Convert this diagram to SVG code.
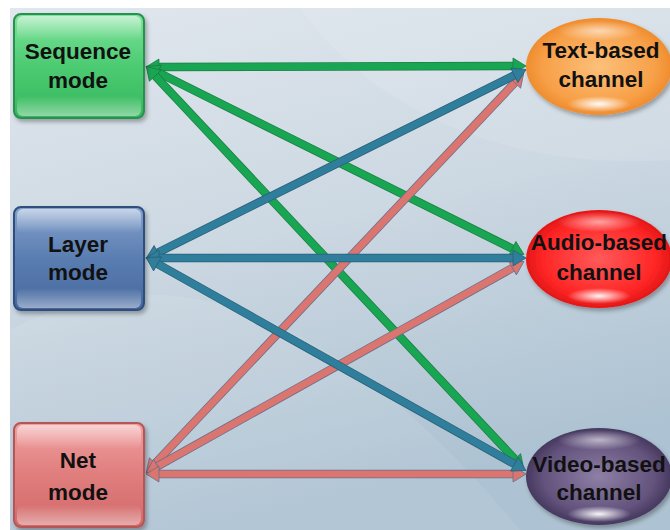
<svg xmlns="http://www.w3.org/2000/svg" width="670" height="530" viewBox="0 0 670 530">
<defs>
<style>
.lbl{font-family:"Liberation Sans",Arial,sans-serif;font-weight:bold;font-size:22.5px;fill:#111;text-anchor:middle}
.e{fill:none;stroke-width:7;stroke-linecap:butt}
.o{fill:none;stroke-width:8.5;stroke-linecap:butt}
.g{stroke:#19a652}
.b{stroke:#2f7f9c}
.p{stroke:#da756f}
.go{stroke:#1c7d45}
.bo{stroke:#2a5f78}
.po{stroke:#6a6f8c}
</style>
<linearGradient id="bg" x1="0" y1="0" x2="0.3" y2="1">
<stop offset="0" stop-color="#e1e7ee"/>
<stop offset="0.5" stop-color="#ccd8e2"/>
<stop offset="1" stop-color="#adc2d2"/>
</linearGradient>
<linearGradient id="gG" x1="0" y1="0" x2="0" y2="1">
<stop offset="0" stop-color="#7fe39b"/>
<stop offset="0.5" stop-color="#4ccb72"/>
<stop offset="1" stop-color="#36b75d"/>
</linearGradient>
<linearGradient id="gB" x1="0" y1="0" x2="0" y2="1">
<stop offset="0" stop-color="#84a1cc"/>
<stop offset="0.5" stop-color="#5a7db1"/>
<stop offset="1" stop-color="#46689d"/>
</linearGradient>
<linearGradient id="gP" x1="0" y1="0" x2="0" y2="1">
<stop offset="0" stop-color="#f0a0a0"/>
<stop offset="0.5" stop-color="#e07d7d"/>
<stop offset="1" stop-color="#d26a6a"/>
</linearGradient>
<linearGradient id="hiTop" x1="0" y1="0" x2="0" y2="1">
<stop offset="0" stop-color="#fff" stop-opacity="0.55"/>
<stop offset="1" stop-color="#fff" stop-opacity="0"/>
</linearGradient>
<linearGradient id="hiBot" x1="0" y1="0" x2="0" y2="1">
<stop offset="0" stop-color="#fff" stop-opacity="0"/>
<stop offset="1" stop-color="#fff" stop-opacity="0.45"/>
</linearGradient>
<radialGradient id="rO" cx="0.5" cy="0.5" r="0.55">
<stop offset="0" stop-color="#fcc07a"/>
<stop offset="0.7" stop-color="#f7a048"/>
<stop offset="1" stop-color="#ec8424"/>
</radialGradient>
<radialGradient id="rR" cx="0.5" cy="0.5" r="0.55">
<stop offset="0" stop-color="#ff5a5a"/>
<stop offset="0.7" stop-color="#ff2626"/>
<stop offset="1" stop-color="#d81010"/>
</radialGradient>
<radialGradient id="rV" cx="0.5" cy="0.5" r="0.55">
<stop offset="0" stop-color="#8e7fa6"/>
<stop offset="0.7" stop-color="#62527c"/>
<stop offset="1" stop-color="#3a2d52"/>
</radialGradient>
<radialGradient id="gl" cx="0.5" cy="0.5" r="0.5">
<stop offset="0" stop-color="#fff" stop-opacity="0.95"/>
<stop offset="1" stop-color="#fff" stop-opacity="0"/>
</radialGradient>
<filter id="sh" x="-10%" y="-10%" width="125%" height="130%">
<feDropShadow dx="2" dy="3" stdDeviation="2" flood-color="#000" flood-opacity="0.3"/>
</filter>
<marker id="mG" markerUnits="userSpaceOnUse" markerWidth="15" markerHeight="18" viewBox="-1 -1 15 18" refX="0" refY="8" orient="auto-start-reverse"><path d="M0,0 L13,8 L0,16 z" fill="#19a652" stroke="#1c7d45" stroke-width="0.8"/></marker>
<marker id="mB" markerUnits="userSpaceOnUse" markerWidth="15" markerHeight="18" viewBox="-1 -1 15 18" refX="0" refY="8" orient="auto-start-reverse"><path d="M0,0 L13,8 L0,16 z" fill="#2f7f9c" stroke="#2a5f78" stroke-width="0.8"/></marker>
<marker id="mP" markerUnits="userSpaceOnUse" markerWidth="15" markerHeight="18" viewBox="-1 -1 15 18" refX="0" refY="8" orient="auto-start-reverse"><path d="M0,0 L13,8 L0,16 z" fill="#da756f" stroke="#6a6f8c" stroke-width="0.8"/></marker>
</defs>

<rect width="670" height="530" fill="#fff"/>
<rect x="10" y="8" width="660" height="522" fill="url(#bg)"/>
<path d="M10,330 C160,250 330,300 520,530 L10,530 z" fill="#fff" opacity="0.08"/>
<path d="M300,8 C380,120 520,170 670,160 L670,8 z" fill="#fff" opacity="0.1"/>

<g id="connectors">
<g id="seq-links">
<line class="o go" x1="159" y1="67" x2="513" y2="66"/>
<line class="e g" x1="159" y1="67" x2="513" y2="66" marker-start="url(#mG)" marker-end="url(#mG)"/>
<line class="o go" x1="157.7" y1="72.3" x2="512.3" y2="248.7"/>
<line class="e g" x1="157.7" y1="72.3" x2="512.3" y2="248.7" marker-start="url(#mG)" marker-end="url(#mG)"/>
<line class="o go" x1="155.2" y1="75.8" x2="514.8" y2="459.2"/>
<line class="e g" x1="155.2" y1="75.8" x2="514.8" y2="459.2" marker-start="url(#mG)" marker-end="url(#mG)"/>
</g>
<g id="net-links">
<line class="o po" x1="155.2" y1="463.3" x2="514.8" y2="82.7"/>
<line class="e p" x1="155.2" y1="463.3" x2="514.8" y2="82.7" marker-start="url(#mP)" marker-end="url(#mP)"/>
<line class="o po" x1="157.5" y1="466.2" x2="512.5" y2="267.9"/>
<line class="e p" x1="157.5" y1="466.2" x2="512.5" y2="267.9" marker-start="url(#mP)" marker-end="url(#mP)"/>
<line class="o po" x1="159" y1="474" x2="513" y2="474"/>
<line class="e p" x1="159" y1="474" x2="513" y2="474" marker-start="url(#mP)" marker-end="url(#mP)"/>
</g>
<g id="layer-links">
<line class="o bo" x1="157.7" y1="252.7" x2="514.3" y2="75.3"/>
<line class="e b" x1="157.7" y1="252.7" x2="514.3" y2="75.3" marker-start="url(#mB)" marker-end="url(#mB)"/>
<line class="o bo" x1="159" y1="258" x2="513" y2="258"/>
<line class="e b" x1="159" y1="258" x2="513" y2="258" marker-start="url(#mB)" marker-end="url(#mB)"/>
<line class="o bo" x1="157.5" y1="263.9" x2="514.5" y2="464.1"/>
<line class="e b" x1="157.5" y1="263.9" x2="514.5" y2="464.1" marker-start="url(#mB)" marker-end="url(#mB)"/>
</g>
</g>

<g id="sequence-mode">
<rect x="14" y="14" width="130" height="104" rx="7" fill="url(#gG)" stroke="#2b9050" stroke-width="2" filter="url(#sh)"/>
<rect x="17" y="16" width="124" height="24" rx="6" fill="url(#hiTop)"/>
<rect x="17" y="96" width="124" height="20" rx="6" fill="url(#hiBot)"/>
<text class="lbl" x="78" y="59">Sequence</text>
<text class="lbl" x="78" y="88">mode</text>
</g>

<g id="layer-mode">
<rect x="14" y="207" width="130" height="103" rx="7" fill="url(#gB)" stroke="#2f4f7e" stroke-width="2" filter="url(#sh)"/>
<rect x="17" y="209" width="124" height="24" rx="6" fill="url(#hiTop)"/>
<rect x="17" y="288" width="124" height="20" rx="6" fill="url(#hiBot)"/>
<text class="lbl" x="78" y="252">Layer</text>
<text class="lbl" x="78" y="280">mode</text>
</g>

<g id="net-mode">
<rect x="14" y="423" width="130" height="104" rx="7" fill="url(#gP)" stroke="#b65454" stroke-width="2" filter="url(#sh)"/>
<rect x="17" y="425" width="124" height="24" rx="6" fill="url(#hiTop)"/>
<rect x="17" y="505" width="124" height="20" rx="6" fill="url(#hiBot)"/>
<text class="lbl" x="78" y="468">Net</text>
<text class="lbl" x="78" y="500">mode</text>
</g>

<g id="text-channel">
<ellipse cx="599" cy="66.5" rx="73" ry="48.5" fill="url(#rO)" filter="url(#sh)"/>
<ellipse cx="599" cy="31" rx="42" ry="10" fill="url(#gl)" opacity="0.6"/>
<ellipse cx="599" cy="104" rx="32" ry="8" fill="url(#gl)"/>
<text class="lbl" x="601" y="58">Text-based</text>
<text class="lbl" x="601" y="87">channel</text>
</g>

<g id="audio-channel">
<ellipse cx="599" cy="259" rx="73" ry="49" fill="url(#rR)" filter="url(#sh)"/>
<ellipse cx="599" cy="222" rx="42" ry="10" fill="url(#gl)" opacity="0.6"/>
<ellipse cx="599" cy="296" rx="32" ry="8" fill="url(#gl)"/>
<text class="lbl" x="599" y="250">Audio-based</text>
<text class="lbl" x="599" y="280">channel</text>
</g>

<g id="video-channel">
<ellipse cx="599" cy="476.5" rx="73" ry="48.5" fill="url(#rV)" filter="url(#sh)"/>
<ellipse cx="599" cy="440" rx="42" ry="10" fill="url(#gl)" opacity="0.6"/>
<ellipse cx="599" cy="514" rx="32" ry="8" fill="url(#gl)"/>
<text class="lbl" x="599" y="472">Video-based</text>
<text class="lbl" x="599" y="500">channel</text>
</g>
</svg>
